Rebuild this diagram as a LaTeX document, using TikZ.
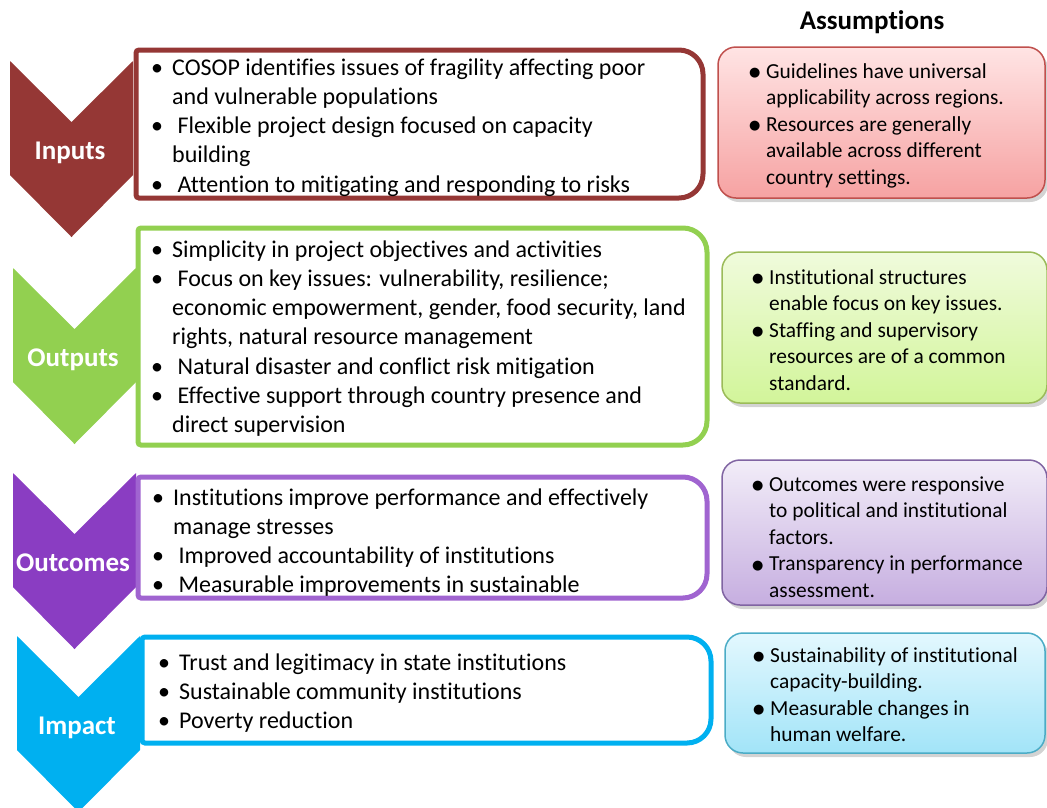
\documentclass[tikz,border=0pt]{standalone}
\usepackage{fontspec}
\setmainfont{Carlito}[Ligatures={NoCommon}]
\newfontfamily\dotfont{DejaVu Sans}
\usetikzlibrary{shadows}

\definecolor{inred}{HTML}{953735}
\definecolor{outgreen}{HTML}{92D050}
\definecolor{ocpurple}{HTML}{8A3DC2}
\definecolor{ocline}{HTML}{A064D0}
\definecolor{imcyan}{HTML}{00B0F0}
% assumption boxes
\definecolor{redline}{HTML}{C0504D}
\definecolor{redtop}{HTML}{FFE4E4}
\definecolor{redbot}{HTML}{F6A2A2}
\definecolor{greenline}{HTML}{9BBB59}
\definecolor{greentop}{HTML}{F0FBDC}
\definecolor{greenbot}{HTML}{D2F59A}
\definecolor{purpline}{HTML}{8064A2}
\definecolor{purptop}{HTML}{F2EDF8}
\definecolor{purpbot}{HTML}{C6AEE0}
\definecolor{cyanline}{HTML}{4BACC6}
\definecolor{cyantop}{HTML}{E3F8FE}
\definecolor{cyanbot}{HTML}{A2E4F8}

\newcommand\bl{\makebox[21pt][l]{•}}
\newcommand\ind{\hspace*{21pt}}
\newcommand\ab{\makebox[17pt][l]{\raisebox{1.5pt}{\dotfont\fontsize{13}{13}\selectfont ●}}}
\newcommand\aind{\hspace*{17pt}}
\newcommand\tp{\rule{0pt}{19pt}}

\begin{document}
\begin{tikzpicture}
  [x=1pt,y=-1pt,
   every node/.style={inner sep=0pt},
   listbox/.style={line width=5pt,fill=white},
   assumbox/.style={rounded corners=18pt,line width=1.5pt,
     drop shadow={opacity=.35,shadow xshift=3pt,shadow yshift=-4pt}},
   listtext/.style={anchor=north west,align=left,font=\fontsize{24}{29.2}\selectfont},
   notetext/.style={anchor=north west,align=left,font=\fontsize{21.4}{26.5}\selectfont},
   steptitle/.style={font=\fontsize{27}{30}\selectfont\bfseries,text=white,
     text height=18pt,text depth=2pt}]
  \useasboundingbox (0,0) rectangle (1047,807);

  % chevrons on the left
  \foreach \x/\y/\c/\n in {10/61/inred/Inputs,13/268/outgreen/Outputs,
                           13/473/ocpurple/Outcomes,17/636/imcyan/Impact}
  {
    \fill[\c] (\x,\y) -- ++(61.5,61) -- ++(61.5,-61) -- ++(0,114)
      -- ++(-61.5,62) -- ++(-61.5,-62) -- cycle;
    \node[steptitle] (t\n) at (\x+60,\y+90) {\n};
  }

  % boxes with the lists
  \draw[listbox,draw=inred] [rounded corners=3pt] (136,198) -- (136,50)
    [rounded corners=24pt] -- (703,50) -- (703,198) [rounded corners=3pt] -- cycle;
  \draw[listbox,draw=outgreen] [rounded corners=3pt] (138,445) -- (138,228)
    [rounded corners=24pt] -- (707,228) -- (707,445) [rounded corners=3pt] -- cycle;
  \draw[listbox,draw=ocline] [rounded corners=3pt] (138,598) -- (138,477)
    [rounded corners=24pt] -- (707,477) -- (707,598) [rounded corners=3pt] -- cycle;
  \draw[listbox,draw=imcyan] [rounded corners=3pt] (142,743) -- (142,637)
    [rounded corners=24pt] -- (711,637) -- (711,743) [rounded corners=3pt] -- cycle;

  \node[listtext] (inputs) at (151,56) {\tp\bl COSOP identifies issues of fragility affecting poor\\
    \ind and vulnerable populations\\
    \bl\ Flexible project design focused on capacity\\
    \ind building\\
    \bl\ Attention to mitigating and responding to risks};
  \node[listtext] (outputs) at (151,238) {\tp\bl Simplicity in project objectives and activities\\
    \bl\ Focus on key issues: vulnerability, resilience;\\
    \ind economic empowerment, gender, food security, land\\
    \ind rights, natural resource management\\
    \bl\ Natural disaster and conflict risk mitigation\\
    \bl\ Effective support through country presence and\\
    \ind direct supervision};
  \node[listtext] (outcomes) at (152,486) {\tp\bl Institutions improve performance and effectively\\
    \ind manage stresses\\
    \bl\ Improved accountability of institutions\\
    \bl\ Measurable improvements in sustainable};
  \node[listtext] (impact) at (158,651) {\tp\bl Trust and legitimacy in state institutions\\
    \bl Sustainable community institutions\\
    \bl Poverty reduction};

  % assumptions
  \node[font=\fontsize{27}{30}\selectfont\bfseries] (assum) at (872,22) {Assumptions};

  \draw[assumbox,draw=redline,top color=redtop,bottom color=redbot] (718,47) rectangle (1045,198);
  \draw[assumbox,draw=greenline,top color=greentop,bottom color=greenbot] (722,252) rectangle (1047,403);
  \draw[assumbox,draw=purpline,top color=purptop,bottom color=purpbot] (722,460) rectangle (1047,605);
  \draw[assumbox,draw=cyanline,top color=cyantop,bottom color=cyanbot] (725,633) rectangle (1045,753);

  \node[notetext] (a1) at (749,59) {\tp\ab Guidelines have universal\\
    \aind applicability across regions.\\
    \ab Resources are generally\\
    \aind available across different\\
    \aind country settings.};
  \node[notetext] (a2) at (752,265) {\tp\ab Institutional structures\\
    \aind enable focus on key issues.\\
    \ab Staffing and supervisory\\
    \aind resources are of a common\\
    \aind standard.};
  \node[notetext] (a3) at (752,472) {\tp\ab Outcomes were responsive\\
    \aind to political and institutional\\
    \aind factors.\\
    \ab Transparency in performance\\
    \aind assessment.};
  \node[notetext] (a4) at (753,643) {\tp\ab Sustainability of institutional\\
    \aind capacity-building.\\
    \ab Measurable changes in\\
    \aind human welfare.};
\end{tikzpicture}
\end{document}
